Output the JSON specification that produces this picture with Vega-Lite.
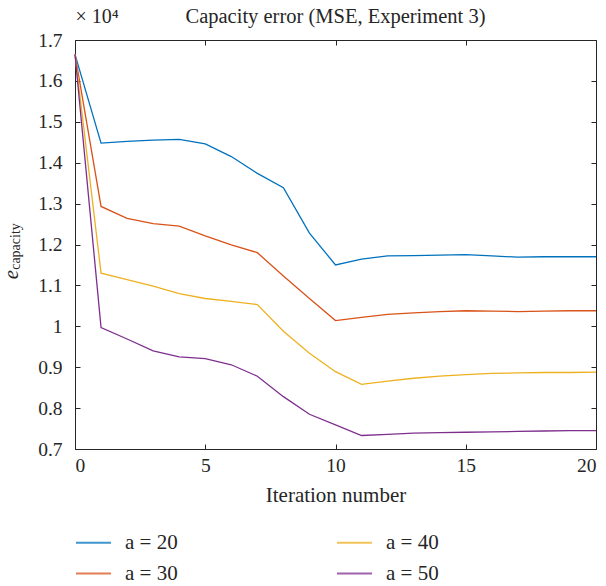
{
  "$schema": "https://vega.github.io/schema/vega-lite/v6.json",
  "width": 521,
  "height": 409,
  "autosize": {"type": "none"},
  "padding": {"left": 75, "top": 40, "right": 10, "bottom": 137},
  "background": "white",
  "title": {
    "text": "Capacity error (MSE, Experiment 3)",
    "font": "Liberation Serif, DejaVu Serif, serif",
    "fontSize": 20.5,
    "fontWeight": "normal",
    "color": "#262626",
    "anchor": "middle",
    "frame": "group",
    "offset": 0,
    "dy": 21
  },
  "config": {
    "font": "Liberation Serif, DejaVu Serif, serif",
    "view": {"stroke": null},
    "axis": {
      "domainColor": "#262626",
      "tickColor": "#262626",
      "labelColor": "#262626",
      "titleColor": "#262626",
      "labelFont": "Liberation Serif, DejaVu Serif, serif",
      "titleFont": "Liberation Serif, DejaVu Serif, serif",
      "labelFontSize": 19.5,
      "titleFontWeight": "normal",
      "grid": false,
      "domainWidth": 1,
      "tickWidth": 1,
      "tickSize": -5
    }
  },
  "data": {
    "values": [
      {"a": "a = 20", "iter": 0, "mse": 16650}, {"a": "a = 20", "iter": 1, "mse": 14480}, {"a": "a = 20", "iter": 2, "mse": 14520},
      {"a": "a = 20", "iter": 3, "mse": 14550}, {"a": "a = 20", "iter": 4, "mse": 14570}, {"a": "a = 20", "iter": 5, "mse": 14460},
      {"a": "a = 20", "iter": 6, "mse": 14150}, {"a": "a = 20", "iter": 7, "mse": 13740}, {"a": "a = 20", "iter": 8, "mse": 13390},
      {"a": "a = 20", "iter": 9, "mse": 12280}, {"a": "a = 20", "iter": 10, "mse": 11500}, {"a": "a = 20", "iter": 11, "mse": 11640},
      {"a": "a = 20", "iter": 12, "mse": 11720}, {"a": "a = 20", "iter": 13, "mse": 11730}, {"a": "a = 20", "iter": 14, "mse": 11740},
      {"a": "a = 20", "iter": 15, "mse": 11750}, {"a": "a = 20", "iter": 16, "mse": 11720}, {"a": "a = 20", "iter": 17, "mse": 11690},
      {"a": "a = 20", "iter": 18, "mse": 11700}, {"a": "a = 20", "iter": 19, "mse": 11700}, {"a": "a = 20", "iter": 20, "mse": 11700},

      {"a": "a = 30", "iter": 0, "mse": 16650}, {"a": "a = 30", "iter": 1, "mse": 12930}, {"a": "a = 30", "iter": 2, "mse": 12640},
      {"a": "a = 30", "iter": 3, "mse": 12510}, {"a": "a = 30", "iter": 4, "mse": 12450}, {"a": "a = 30", "iter": 5, "mse": 12210},
      {"a": "a = 30", "iter": 6, "mse": 11990}, {"a": "a = 30", "iter": 7, "mse": 11800}, {"a": "a = 30", "iter": 8, "mse": 11230},
      {"a": "a = 30", "iter": 9, "mse": 10680}, {"a": "a = 30", "iter": 10, "mse": 10140}, {"a": "a = 30", "iter": 11, "mse": 10220},
      {"a": "a = 30", "iter": 12, "mse": 10290}, {"a": "a = 30", "iter": 13, "mse": 10330}, {"a": "a = 30", "iter": 14, "mse": 10360},
      {"a": "a = 30", "iter": 15, "mse": 10380}, {"a": "a = 30", "iter": 16, "mse": 10370}, {"a": "a = 30", "iter": 17, "mse": 10360},
      {"a": "a = 30", "iter": 18, "mse": 10370}, {"a": "a = 30", "iter": 19, "mse": 10380}, {"a": "a = 30", "iter": 20, "mse": 10380},

      {"a": "a = 40", "iter": 0, "mse": 16650}, {"a": "a = 40", "iter": 1, "mse": 11300}, {"a": "a = 40", "iter": 2, "mse": 11140},
      {"a": "a = 40", "iter": 3, "mse": 10980}, {"a": "a = 40", "iter": 4, "mse": 10800}, {"a": "a = 40", "iter": 5, "mse": 10680},
      {"a": "a = 40", "iter": 6, "mse": 10610}, {"a": "a = 40", "iter": 7, "mse": 10530}, {"a": "a = 40", "iter": 8, "mse": 9880},
      {"a": "a = 40", "iter": 9, "mse": 9340}, {"a": "a = 40", "iter": 10, "mse": 8890}, {"a": "a = 40", "iter": 11, "mse": 8580},
      {"a": "a = 40", "iter": 12, "mse": 8660}, {"a": "a = 40", "iter": 13, "mse": 8730}, {"a": "a = 40", "iter": 14, "mse": 8780},
      {"a": "a = 40", "iter": 15, "mse": 8820}, {"a": "a = 40", "iter": 16, "mse": 8850}, {"a": "a = 40", "iter": 17, "mse": 8860},
      {"a": "a = 40", "iter": 18, "mse": 8870}, {"a": "a = 40", "iter": 19, "mse": 8870}, {"a": "a = 40", "iter": 20, "mse": 8880},

      {"a": "a = 50", "iter": 0, "mse": 16650}, {"a": "a = 50", "iter": 1, "mse": 9970}, {"a": "a = 50", "iter": 2, "mse": 9690},
      {"a": "a = 50", "iter": 3, "mse": 9400}, {"a": "a = 50", "iter": 4, "mse": 9250}, {"a": "a = 50", "iter": 5, "mse": 9210},
      {"a": "a = 50", "iter": 6, "mse": 9060}, {"a": "a = 50", "iter": 7, "mse": 8780}, {"a": "a = 50", "iter": 8, "mse": 8280},
      {"a": "a = 50", "iter": 9, "mse": 7850}, {"a": "a = 50", "iter": 10, "mse": 7590}, {"a": "a = 50", "iter": 11, "mse": 7330},
      {"a": "a = 50", "iter": 12, "mse": 7360}, {"a": "a = 50", "iter": 13, "mse": 7390}, {"a": "a = 50", "iter": 14, "mse": 7400},
      {"a": "a = 50", "iter": 15, "mse": 7410}, {"a": "a = 50", "iter": 16, "mse": 7420}, {"a": "a = 50", "iter": 17, "mse": 7430},
      {"a": "a = 50", "iter": 18, "mse": 7440}, {"a": "a = 50", "iter": 19, "mse": 7450}, {"a": "a = 50", "iter": 20, "mse": 7450}
    ]
  },
  "resolve": {"axis": {"x": "independent", "y": "independent"}},
  "layer": [
    {
      "mark": {"type": "line", "strokeWidth": 1.3},
      "encoding": {
        "x": {
          "field": "iter",
          "type": "quantitative",
          "scale": {"domain": [0, 20], "nice": false},
          "axis": {
            "orient": "bottom",
            "values": [0, 5, 10, 15, 20],
            "title": "Iteration number",
            "titleFontSize": 21,
            "titlePadding": 10,
            "labelPadding": 12
          }
        },
        "y": {
          "field": "mse",
          "type": "quantitative",
          "scale": {"domain": [7000, 17000], "nice": false, "zero": false},
          "axis": {
            "orient": "left",
            "values": [7000, 8000, 9000, 10000, 11000, 12000, 13000, 14000, 15000, 16000, 17000],
            "labelExpr": "format(datum.value / 10000, '~g')",
            "labelPadding": 18,
            "title": "e",
            "titleFontStyle": "italic",
            "titleFontSize": 21,
            "titleAngle": -90,
            "titleAlign": "center",
            "titleBaseline": "alphabetic",
            "titleX": -58,
            "titleY": 234
          }
        },
        "color": {
          "field": "a",
          "type": "nominal",
          "scale": {
            "domain": ["a = 20", "a = 30", "a = 40", "a = 50"],
            "range": ["#0072BD", "#D95319", "#EDB120", "#7E2F8E"]
          },
          "legend": {
            "orient": "none",
            "legendX": 0,
            "legendY": 484,
            "columns": 2,
            "columnPadding": 155,
            "rowPadding": 2,
            "title": null,
            "symbolType": "stroke",
            "symbolSize": 1225,
            "symbolStrokeWidth": 2,
            "symbolOpacity": 0.75,
            "labelFont": "Liberation Serif, DejaVu Serif, serif",
            "labelFontSize": 21,
            "labelColor": "#262626",
            "labelOffset": 13
          }
        }
      }
    },
    {
      "mark": {"type": "line", "opacity": 0},
      "encoding": {
        "x": {
          "field": "iter",
          "type": "quantitative",
          "axis": {
            "orient": "top",
            "values": [0, 5, 10, 15, 20],
            "labels": false,
            "title": "× 10⁴",
            "titleFontSize": 20,
            "titleAngle": 0,
            "titleAlign": "left",
            "titleBaseline": "alphabetic",
            "titleX": 0,
            "titleY": -18
          }
        },
        "y": {
          "field": "mse",
          "type": "quantitative",
          "axis": {
            "orient": "left",
            "labels": false,
            "ticks": false,
            "domain": false,
            "title": "capacity",
            "titleFontSize": 14,
            "titleAngle": -90,
            "titleAlign": "center",
            "titleBaseline": "alphabetic",
            "titleX": -56,
            "titleY": 206
          }
        },
        "detail": {"field": "a", "type": "nominal"}
      }
    },
    {
      "mark": {"type": "line", "opacity": 0},
      "encoding": {
        "x": {"field": "iter", "type": "quantitative", "axis": null},
        "y": {
          "field": "mse",
          "type": "quantitative",
          "axis": {
            "orient": "right",
            "values": [7000, 8000, 9000, 10000, 11000, 12000, 13000, 14000, 15000, 16000, 17000],
            "labels": false,
            "title": null
          }
        },
        "detail": {"field": "a", "type": "nominal"}
      }
    }
  ]
}
